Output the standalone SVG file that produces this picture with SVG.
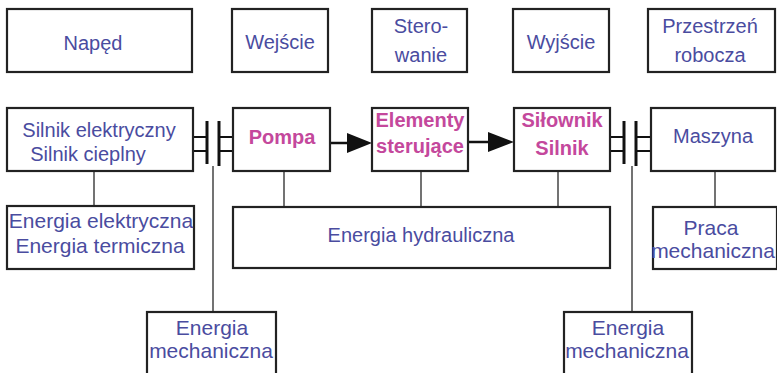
<svg xmlns="http://www.w3.org/2000/svg" width="777" height="373" viewBox="0 0 777 373">
<defs>
<style>
.box{fill:#fff;stroke:#222;stroke-width:2.2}
.t{font-family:"Liberation Sans",Arial,sans-serif;font-size:20px;fill:#4a4c9f;text-anchor:middle}
.p{font-family:"Liberation Sans",Arial,sans-serif;font-size:20px;font-weight:bold;fill:#c4489c;text-anchor:middle}
.ln{stroke:#444;stroke-width:1.5;fill:none}
.bar{stroke:#111;stroke-width:3;fill:none}
.cl{stroke:#111;stroke-width:2;fill:none}
.ar{stroke:#111;stroke-width:2.5;fill:none}
</style>
</defs>
<rect width="777" height="373" fill="#fff"/>
<g id="connectors">
<line class="ln" x1="94" y1="171" x2="94" y2="206"/>
<line class="ln" x1="284" y1="171" x2="284" y2="207"/>
<line class="ln" x1="421" y1="171" x2="421" y2="207"/>
<line class="ln" x1="558" y1="171" x2="558" y2="207"/>
<line class="ln" x1="715" y1="171" x2="715" y2="207"/>
<line class="ln" x1="213" y1="166" x2="213" y2="312"/>
<line class="ln" x1="632" y1="166" x2="632" y2="312"/>
<line class="ar" x1="330" y1="143" x2="350" y2="143"/>
<polygon points="347,133 372,143 347,153" fill="#111"/>
<line class="ar" x1="468" y1="142" x2="490" y2="142"/>
<polygon points="488,132 514,142 488,152" fill="#111"/>
<g id="coupling-left">
<line class="cl" x1="193" y1="137" x2="207" y2="137"/>
<line class="cl" x1="193" y1="151" x2="207" y2="151"/>
<line class="cl" x1="219" y1="137" x2="233" y2="137"/>
<line class="cl" x1="219" y1="151" x2="233" y2="151"/>
<line class="bar" x1="207" y1="121" x2="207" y2="164"/>
<line class="bar" x1="219" y1="121" x2="219" y2="166"/>
</g>
<g id="coupling-right">
<line class="cl" x1="610" y1="137" x2="624" y2="137"/>
<line class="cl" x1="610" y1="151" x2="624" y2="151"/>
<line class="cl" x1="636" y1="137" x2="651" y2="137"/>
<line class="cl" x1="636" y1="151" x2="651" y2="151"/>
<line class="bar" x1="624" y1="121" x2="624" y2="164"/>
<line class="bar" x1="636" y1="121" x2="636" y2="166"/>
</g>
</g>
<g id="naped"><rect class="box" x="7" y="9" width="185" height="63"/><text class="t" x="93" y="50">Napęd</text></g>
<g id="wejscie"><rect class="box" x="232" y="9" width="96" height="63"/><text class="t" x="280" y="49">Wejście</text></g>
<g id="sterowanie"><rect class="box" x="372" y="9" width="95" height="63"/><text class="t" x="421" y="33">Stero-</text><text class="t" x="421" y="62">wanie</text></g>
<g id="wyjscie"><rect class="box" x="513" y="9" width="96" height="63"/><text class="t" x="561" y="49">Wyjście</text></g>
<g id="przestrzen"><rect class="box" x="648" y="9" width="127" height="63"/><text class="t" x="710" y="33">Przestrzeń</text><text class="t" x="710" y="62">robocza</text></g>
<g id="silnik"><rect class="box" x="7" y="108" width="186" height="63"/><text class="t" x="99" y="137">Silnik elektryczny</text><text class="t" x="88" y="161">Silnik cieplny</text></g>
<g id="pompa"><rect class="box" x="233" y="108" width="97" height="63"/><text class="p" x="282" y="144">Pompa</text></g>
<g id="elementy"><rect class="box" x="372" y="108" width="96" height="63"/><text class="p" x="420" y="127">Elementy</text><text class="p" x="420" y="153">sterujące</text></g>
<g id="silownik"><rect class="box" x="514" y="108" width="96" height="63"/><text class="p" x="562" y="127">Siłownik</text><text class="p" x="562" y="155">Silnik</text></g>
<g id="maszyna"><rect class="box" x="651" y="108" width="124" height="63"/><text class="t" x="713" y="143">Maszyna</text></g>
<g id="energia-el"><rect class="box" x="7" y="206" width="187" height="63"/><text class="t" x="101" y="228" style="font-size:21px">Energia elektryczna</text><text class="t" x="100" y="253" style="font-size:21px">Energia termiczna</text></g>
<g id="energia-hydr"><rect class="box" x="233" y="207" width="377" height="61"/><text class="t" x="421" y="242">Energia hydrauliczna</text></g>
<g id="praca"><rect class="box" x="653" y="207" width="124" height="62"/><text class="t" x="711" y="235" style="font-size:21px">Praca</text><text class="t" x="713" y="258" style="font-size:21px">mechaniczna</text></g>
<g id="energia-mech-l"><rect class="box" x="147" y="312" width="129" height="70"/><text class="t" x="212" y="335" style="font-size:21px">Energia</text><text class="t" x="211" y="358" style="font-size:21px">mechaniczna</text></g>
<g id="energia-mech-r"><rect class="box" x="564" y="312" width="128" height="70"/><text class="t" x="628" y="335" style="font-size:21px">Energia</text><text class="t" x="627" y="358" style="font-size:21px">mechaniczna</text></g>
</svg>
